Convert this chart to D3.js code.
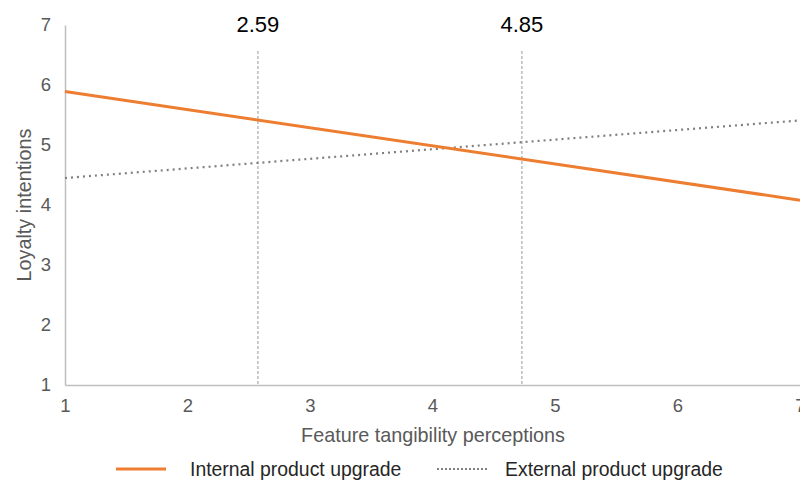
<!DOCTYPE html>
<html>
<head>
<meta charset="utf-8">
<script src="https://cdn.jsdelivr.net/npm/d3@7"></script>
<style>
  html, body { margin: 0; padding: 0; background: #fff; }
  svg { display: block; font-family: "Liberation Sans", Arial, sans-serif; }
</style>
</head>
<body>
<svg id="chart" width="800" height="481"></svg>
<script>
// ---- data ----
const xValues = [1, 7];
const internalValues = [5.89, 4.08];
const externalValues = [4.45, 5.41];
const seriesNames = ["Internal product upgrade", "External product upgrade"];
const xTicks = [1, 2, 3, 4, 5, 6, 7];
const yTicks = [1, 2, 3, 4, 5, 6, 7];
const refLinePositions = [2.575, 4.73];
const refLineLabels = ["2.59", "4.85"];
const xTitle = "Feature tangibility perceptions";
const yTitle = "Loyalty intentions";

// ---- layout ----
const svg = d3.select("#chart");
const margin = { left: 65, right: 0, top: 25, bottom: 96 };
const W = 800, H = 481;
const x = d3.scaleLinear().domain([1, 7]).range([margin.left, W - margin.right]);
const y = d3.scaleLinear().domain([1, 7]).range([H - margin.bottom, margin.top]);

const tickColor = "#595959";
const axisColor = "#bfbfbf";
const FONT = "Liberation Sans, Arial, sans-serif";

// reference lines
const refG = svg.append("g");
refLinePositions.forEach((v, i) => {
  refG.append("line")
    .attr("x1", x(v)).attr("x2", x(v))
    .attr("y1", 51).attr("y2", y(1))
    .attr("stroke", "#7f7f7f").attr("stroke-width", 0.8)
    .attr("stroke-dasharray", "3,2");
  refG.append("text")
    .attr("x", x(v)).attr("y", 32)
    .attr("text-anchor", "middle")
    .attr("font-size", 22).attr("fill", "#000")
    .text(refLineLabels[i]);
});

// axes
const xAxis = d3.axisBottom(x).tickValues(xTicks).tickSize(0).tickPadding(14).tickFormat(d3.format("d"));
const gx = svg.append("g").attr("transform", `translate(0,${y(1)})`).call(xAxis);
gx.select(".domain").attr("stroke", axisColor).attr("stroke-width", 1.5);
gx.selectAll("text").attr("font-size", 18.5).attr("fill", tickColor).attr("font-family", FONT);

const yAxis = d3.axisLeft(y).tickValues(yTicks).tickSize(0).tickPadding(14).tickFormat(d3.format("d"));
const gy = svg.append("g").attr("transform", `translate(${x(1)},0)`).call(yAxis);
gy.select(".domain").attr("stroke", axisColor).attr("stroke-width", 1.5);
gy.selectAll("text").attr("font-size", 18.5).attr("fill", tickColor).attr("font-family", FONT);

// titles
svg.append("text")
  .attr("x", 433).attr("y", 442)
  .attr("text-anchor", "middle")
  .attr("font-size", 19.8).attr("fill", tickColor)
  .text(xTitle);
svg.append("text")
  .attr("transform", `translate(31,205) rotate(-90)`)
  .attr("text-anchor", "middle")
  .attr("font-size", 19.8).attr("fill", tickColor)
  .text(yTitle);

// lines
const line = d3.line().x(d => x(d[0])).y(d => y(d[1]));
svg.append("path")
  .datum(xValues.map((v, i) => [v, externalValues[i]]))
  .attr("d", line).attr("fill", "none")
  .attr("stroke", "#808080").attr("stroke-width", 2.2)
  .attr("stroke-dasharray", "2,4");
svg.append("path")
  .datum(xValues.map((v, i) => [v, internalValues[i]]))
  .attr("d", line).attr("fill", "none")
  .attr("stroke", "#ED7D31").attr("stroke-width", 3);

// legend
const lg = svg.append("g");
lg.append("line").attr("x1", 116).attr("x2", 166).attr("y1", 469).attr("y2", 469)
  .attr("stroke", "#ED7D31").attr("stroke-width", 3);
lg.append("text").attr("x", 190).attr("y", 476).attr("font-size", 19.4).attr("fill", "#262626").text(seriesNames[0]);
lg.append("line").attr("x1", 437).attr("x2", 487).attr("y1", 469).attr("y2", 469)
  .attr("stroke", "#808080").attr("stroke-width", 2).attr("stroke-dasharray", "2,2");
lg.append("text").attr("x", 505).attr("y", 476).attr("font-size", 19.4).attr("fill", "#262626").text(seriesNames[1]);
</script>
</body>
</html>
